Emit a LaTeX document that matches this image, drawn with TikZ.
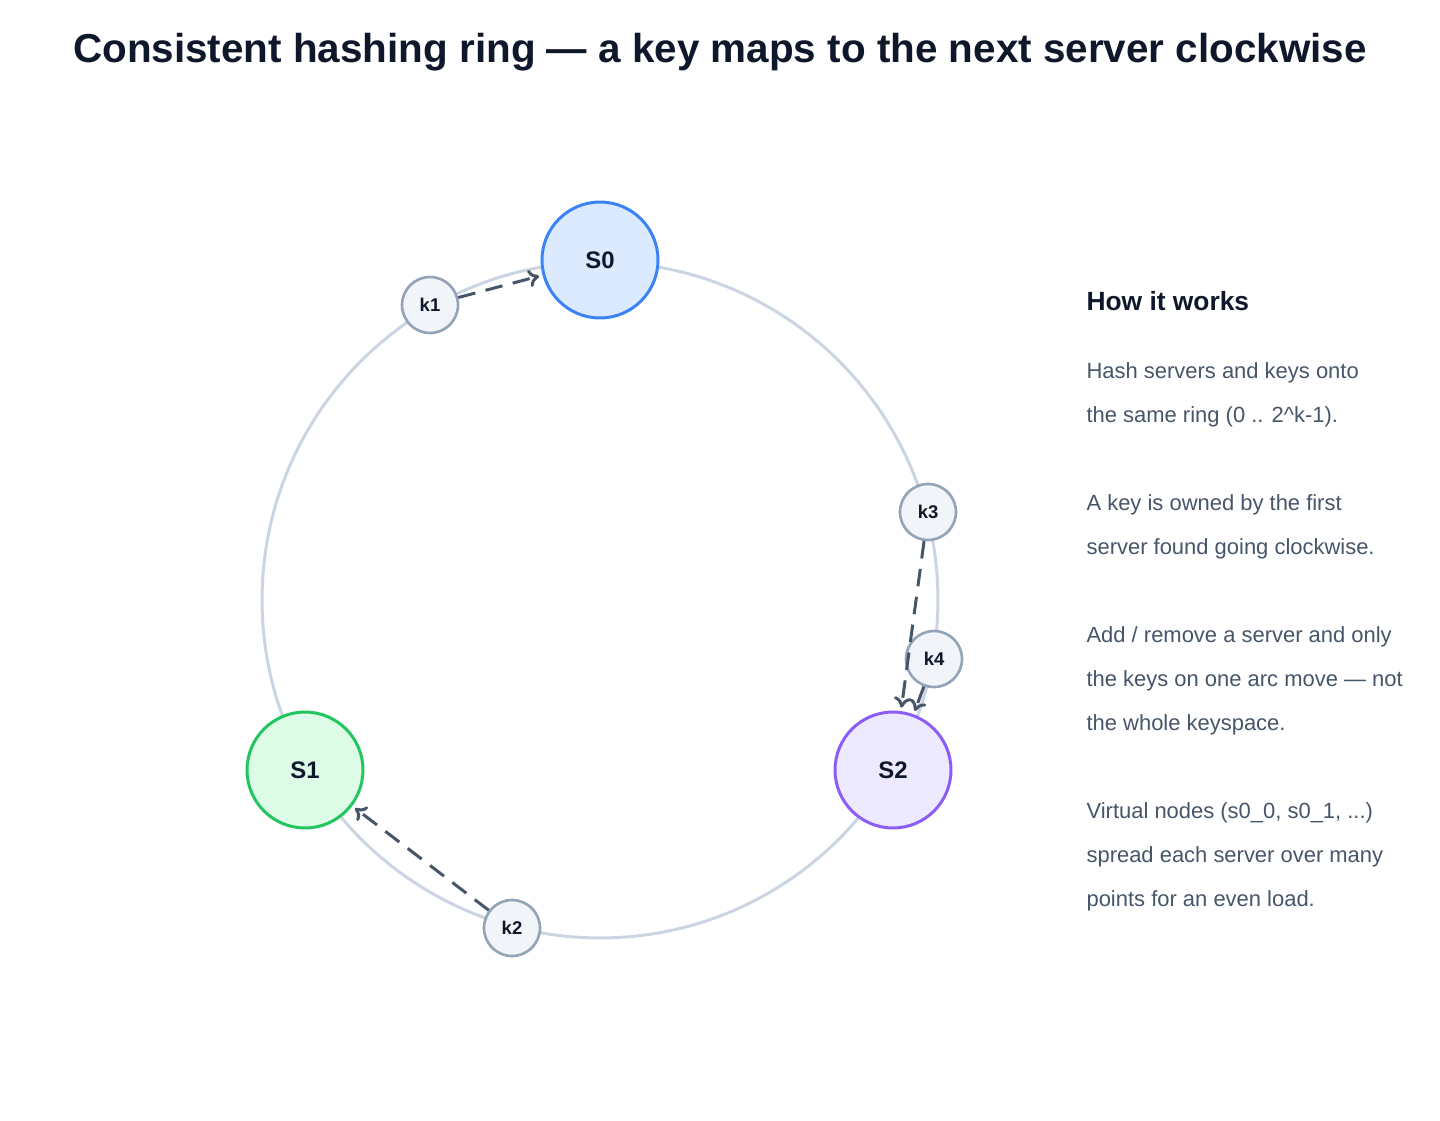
\documentclass[tikz,border=0pt]{standalone}
\usepackage{fontspec}
\setmainfont{Liberation Sans}
\usetikzlibrary{arrows.meta}
\definecolor{ringc}{HTML}{CBD5E1}
\definecolor{inkc}{HTML}{0F172A}
\definecolor{bodyc}{HTML}{475569}
\definecolor{keyfill}{HTML}{F1F5F9}
\definecolor{keydraw}{HTML}{94A3B8}
\begin{document}
\begin{tikzpicture}[x={0.02cm},y={-0.02cm},thick]
		\tikzset{server/.style = {circle, minimum size=2.32cm, line width=1.7pt, font=\fontsize{13.6}{16}\selectfont\bfseries, text=inkc}}
		\tikzset{key/.style = {circle, minimum size=1.12cm, line width=1.5pt, draw=keydraw, fill=keyfill, font=\fontsize{10.5}{12}\selectfont\bfseries, text=inkc}}
		\tikzset{move/.style = {draw=bodyc, line width=1.7pt, dash pattern=on 10pt off 6pt, -{To[length=6pt,width=10pt]}, shorten >=2pt}}
		\tikzset{body/.style = {anchor=base west, font=\fontsize{12.5}{15}\selectfont, text=bodyc}}
		\useasboundingbox (0,0) rectangle (1440,1120);
		
		% title
		\node[font=\fontsize{23}{28}\selectfont\bfseries, text=inkc] (title) at (720,52) {Consistent hashing ring — a key maps to the next server clockwise};
		
		% ring
		\coordinate (c) at (600,600);
		\draw[ringc, line width=1.7pt] (c) circle[radius=6.76cm];
		
		% servers
		\node[server, draw={rgb,255:red,59;green,130;blue,246}, fill={rgb,255:red,219;green,234;blue,254}] (s0) at (600,260) {S0};
		\node[server, draw={rgb,255:red,34;green,197;blue,94}, fill={rgb,255:red,220;green,252;blue,231}] (s1) at (305,770) {S1};
		\node[server, draw={rgb,255:red,139;green,92;blue,246}, fill={rgb,255:red,237;green,233;blue,254}] (s2) at (893,770) {S2};
		
		% keys
		\node[key] (k1) at (430,305) {k1};
		\node[key] (k2) at (512,928) {k2};
		\node[key] (k3) at (928,512) {k3};
		\node[key] (k4) at (934,659) {k4};
		
		% key to owner
		\draw[move] (k1) -- (s0);
		\draw[move] (k2) -- (s1);
		\draw[move] (k3) -- (s2);
		\draw[move] (k4) -- (s2);
		
		% legend
		\node[anchor=base west, font=\fontsize{15}{18}\selectfont\bfseries, text=inkc] (how) at (1080,310) {How it works};
		\node[body] (l1) at (1080,378) {Hash servers and keys onto};
		\node[body] (l2) at (1080,422) {the same ring (0 .. 2\^{}k-1).};
		\node[body] (l3) at (1080,510) {A key is owned by the first};
		\node[body] (l4) at (1080,554) {server found going clockwise.};
		\node[body] (l5) at (1080,642) {Add / remove a server and only};
		\node[body] (l6) at (1080,686) {the keys on one arc move — not};
		\node[body] (l7) at (1080,730) {the whole keyspace.};
		\node[body] (l8) at (1080,818) {Virtual nodes (s0\_0, s0\_1, ...)};
		\node[body] (l9) at (1080,862) {spread each server over many};
		\node[body] (l10) at (1080,906) {points for an even load.};
\end{tikzpicture}
\end{document}
